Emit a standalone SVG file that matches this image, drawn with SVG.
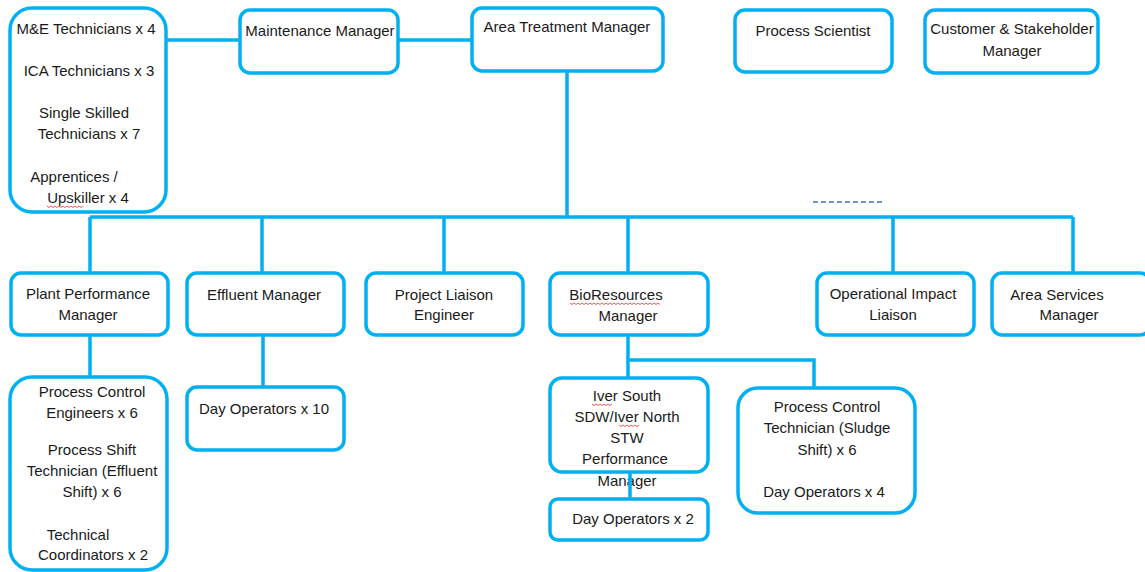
<svg xmlns="http://www.w3.org/2000/svg" width="1145" height="572" viewBox="0 0 1145 572">
<style>
.b{fill:#fff;stroke:#00b0f0;stroke-width:3.5}
.c{fill:none;stroke:#00b0f0;stroke-width:3.5}
text{font-family:"Liberation Sans",Arial,sans-serif;font-size:15px;fill:#1a1a1a;text-anchor:middle}
.sq{fill:none;stroke:#e03030;stroke-width:0.8}
</style>
<rect width="1145" height="572" fill="#fff"/>
<g id="me">
<rect class="b" x="10" y="8" width="156" height="204" rx="22"/>
<text x="86" y="34">M&amp;E Technicians x 4</text>
<text x="89" y="76">ICA Technicians x 3</text>
<text x="84" y="118">Single Skilled</text>
<text x="89" y="139">Technicians x 7</text>
<text x="74" y="182">Apprentices /</text>
<text x="88" y="203">Upskiller x 4</text>
<path class="sq" d="M47 206l2 1.5 2-1.5 2 1.5 2-1.5 2 1.5 2-1.5 2 1.5 2-1.5 2 1.5 2-1.5 2 1.5 2-1.5 2 1.5 2-1.5 2 1.5 2-1.5 2 1.5 2-1.5"/>
</g>
<g id="maint">
<rect class="b" x="240" y="10" width="158" height="63" rx="10"/>
<text x="320" y="36">Maintenance Manager</text>
</g>
<g id="atm">
<rect class="b" x="472" y="8" width="191" height="63" rx="10"/>
<text x="567" y="32">Area Treatment Manager</text>
</g>
<g id="ps">
<rect class="b" x="735" y="10" width="157" height="62" rx="10"/>
<text x="813" y="36">Process Scientist</text>
</g>
<g id="csm">
<rect class="b" x="925" y="10" width="173" height="63" rx="10"/>
<text x="1012" y="34">Customer &amp; Stakeholder</text>
<text x="1012" y="56">Manager</text>
</g>
<g id="ppm">
<rect class="b" x="11" y="273" width="157" height="62" rx="10"/>
<text x="88" y="299">Plant Performance</text>
<text x="88" y="320">Manager</text>
</g>
<g id="eff">
<rect class="b" x="187" y="273" width="157" height="62" rx="10"/>
<text x="264" y="300">Effluent Manager</text>
</g>
<g id="ple">
<rect class="b" x="366" y="273" width="157" height="62" rx="10"/>
<text x="444" y="300">Project Liaison</text>
<text x="444" y="320">Engineer</text>
</g>
<g id="bio">
<rect class="b" x="550" y="273" width="158" height="62" rx="10"/>
<text x="616" y="300">BioResources</text>
<text x="628" y="321">Manager</text>
<path class="sq" d="M570 303l2 1.5 2-1.5 2 1.5 2-1.5 2 1.5 2-1.5 2 1.5 2-1.5 2 1.5 2-1.5 2 1.5 2-1.5 2 1.5 2-1.5 2 1.5 2-1.5 2 1.5 2-1.5 2 1.5 2-1.5 2 1.5 2-1.5 2 1.5 2-1.5 2 1.5 2-1.5 2 1.5 2-1.5 2 1.5 2-1.5 2 1.5 2-1.5 2 1.5 2-1.5 2 1.5 2-1.5 2 1.5 2-1.5 2 1.5 2-1.5 2 1.5 2-1.5 2 1.5 2-1.5 2 1.5"/>
</g>
<g id="oil">
<rect class="b" x="817" y="273" width="157" height="62" rx="10"/>
<text x="893" y="299">Operational Impact</text>
<text x="893" y="320">Liaison</text>
</g>
<g id="asm">
<rect class="b" x="992" y="273" width="158" height="62" rx="10"/>
<text x="1057" y="300">Area Services</text>
<text x="1069" y="320">Manager</text>
</g>
<g id="pce">
<rect class="b" x="10" y="377" width="157" height="193" rx="22"/>
<text x="92" y="397">Process Control</text>
<text x="92" y="418">Engineers x 6</text>
<text x="92" y="455">Process Shift</text>
<text x="92" y="476">Technician (Effluent</text>
<text x="92" y="497">Shift) x 6</text>
<text x="78" y="540">Technical</text>
<text x="93" y="560">Coordinators x 2</text>
</g>
<g id="do10">
<rect class="b" x="187" y="387" width="157" height="63" rx="10"/>
<text x="264" y="414">Day Operators x 10</text>
</g>
<g id="iver">
<rect class="b" x="550" y="378" width="158" height="94" rx="12"/>
<text x="627" y="401">Iver South</text>
<text x="627" y="422">SDW/Iver North</text>
<text x="627" y="443">STW</text>
<text x="625" y="464">Performance</text>
<text x="627" y="486">Manager</text>
<path class="sq" d="M592 404l2 1.5 2-1.5 2 1.5 2-1.5 2 1.5 2-1.5 2 1.5 2-1.5 2 1.5 2-1.5M619 425l2 1.5 2-1.5 2 1.5 2-1.5 2 1.5 2-1.5 2 1.5 2-1.5 2 1.5 2-1.5"/>
</g>
<g id="do2">
<rect class="b" x="550" y="499" width="158" height="41" rx="8"/>
<text x="633" y="524">Day Operators x 2</text>
</g>
<g id="pct">
<rect class="b" x="738" y="388" width="177" height="125" rx="20"/>
<text x="827" y="412">Process Control</text>
<text x="827" y="433">Technician (Sludge</text>
<text x="827" y="455">Shift) x 6</text>
<text x="824" y="497">Day Operators x 4</text>
</g>
<g id="connectors">
<path class="c" d="M167 40H240M398 40H472"/>
<path class="c" d="M567 72V217M90 217H1073M90 217V272M262 217V272M444 217V272M628 217V272M893 217V272M1073 217V272"/>
<path class="c" d="M90 336V376M263 336V386"/>
<path class="c" d="M628 336V377M628 360H814V387M630 473V498"/>
<path d="M813 202H883" stroke="#4472c4" stroke-width="1.5" stroke-dasharray="5,3" fill="none"/>
</g>
</svg>
